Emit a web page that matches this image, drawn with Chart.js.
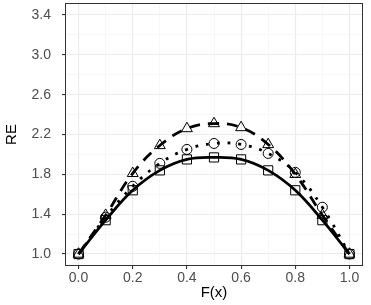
<!DOCTYPE html>
<html>
<head>
<meta charset="utf-8">
<script src="https://cdn.jsdelivr.net/npm/chart.js@4/dist/chart.umd.min.js"></script>
<style>
html,body{margin:0;padding:0;background:#fff;}
#wrap{width:371px;height:305px;}
</style>
</head>
<body>
<div id="wrap"><canvas id="c" width="371" height="305"></canvas></div>
<script>
// ---- data ----
const fx = [0.0, 0.1, 0.2, 0.3, 0.4, 0.5, 0.6, 0.7, 0.8, 0.9, 1.0];
const reSquare   = [1.00, 1.34, 1.64, 1.84, 1.95, 1.97, 1.95, 1.84, 1.64, 1.34, 1.00];
const reCircle   = [1.00, 1.37, 1.68, 1.91, 2.05, 2.11, 2.10, 2.01, 1.82, 1.47, 1.00];
const reTriangle = [1.00, 1.39, 1.81, 2.09, 2.26, 2.31, 2.27, 2.10, 1.80, 1.39, 1.00];
const xMajor = [0.0, 0.2, 0.4, 0.6, 0.8, 1.0];
const xMinor = [0.1, 0.3, 0.5, 0.7, 0.9];
const yMajor = [1.0, 1.4, 1.8, 2.2, 2.6, 3.0, 3.4];
const yMinor = [1.2, 1.6, 2.0, 2.4, 2.8, 3.2];

const near = (arr, v) => arr.some(m => Math.abs(m - v) < 1e-9);
const pts = ys => fx.map((x, i) => ({x: x, y: ys[i]}));

const FONT = "'Liberation Sans', Arial, Helvetica, sans-serif";

const borderPlugin = {
  id: 'panelBorder',
  afterDraw(chart) {
    const a = chart.chartArea, ctx = chart.ctx;
    ctx.save();
    ctx.strokeStyle = '#333333';
    ctx.lineWidth = 1;
    ctx.strokeRect(a.left + 0.5, a.top + 0.5, a.right - a.left - 1, a.bottom - a.top - 1);
    ctx.restore();
  }
};

function gridOpts(major) {
  return {
    color: c => (c.tick && near(major, c.tick.value)) ? '#EBEBEB' : '#F5F5F5',
    lineWidth: c => (c.tick && near(major, c.tick.value)) ? 1.1 : 0.8,
    tickColor: c => (c.tick && near(major, c.tick.value)) ? '#333333' : 'rgba(0,0,0,0)',
    tickLength: 3,
    drawTicks: true
  };
}

new Chart(document.getElementById('c'), {
  type: 'line',
  data: {
    datasets: [
      {
        data: pts(reSquare),
        borderColor: '#000', borderWidth: 2.8,
        tension: 0.4, fill: false,
        pointStyle: 'rect', pointRadius: 6.5,
        pointBorderColor: '#000', pointBackgroundColor: 'rgba(0,0,0,0)', pointBorderWidth: 1
      },
      {
        data: pts(reCircle),
        borderColor: '#000', borderWidth: 2.8, borderDash: [2.8, 8],
        tension: 0.4, fill: false,
        pointStyle: 'circle', pointRadius: 5,
        pointBorderColor: '#000', pointBackgroundColor: 'rgba(0,0,0,0)', pointBorderWidth: 1
      },
      {
        data: pts(reTriangle),
        borderColor: '#000', borderWidth: 2.8, borderDash: [11, 8],
        tension: 0.4, fill: false,
        pointStyle: 'triangle', pointRadius: 6.3,
        pointBorderColor: '#000', pointBackgroundColor: 'rgba(0,0,0,0)', pointBorderWidth: 1
      }
    ]
  },
  options: {
    responsive: false,
    animation: false,
    devicePixelRatio: 1,
    layout: {autoPadding: false, padding: {left: 0, top: 3, right: 8, bottom: 0}},
    plugins: {legend: {display: false}, tooltip: {enabled: false}},
    scales: {
      x: {
        type: 'linear', min: -0.05, max: 1.05,
        afterBuildTicks: s => { s.ticks = xMajor.concat(xMinor).sort((a,b)=>a-b).map(v => ({value: v})); },
        afterFit: s => { s.height = 39; s.paddingLeft = 0; s.paddingRight = 0; },
        grid: gridOpts(xMajor),
        border: {display: false},
        ticks: {
          autoSkip: false, maxRotation: 0, padding: 1,
          color: '#4D4D4D', font: {family: FONT, size: 14},
          callback: v => near(xMajor, v) ? v.toFixed(1) : ''
        },
        title: {display: true, text: 'F(x)', color: '#000', font: {family: FONT, size: 15}, padding: {top: 0, bottom: 3}}
      },
      y: {
        type: 'linear', min: 0.88, max: 3.52,
        afterBuildTicks: s => { s.ticks = yMajor.concat(yMinor).sort((a,b)=>a-b).map(v => ({value: v})); },
        afterFit: s => { s.width = 65; s.paddingTop = 0; s.paddingBottom = 0; },
        grid: gridOpts(yMajor),
        border: {display: false},
        ticks: {
          autoSkip: false, padding: 11,
          color: '#4D4D4D', font: {family: FONT, size: 14},
          callback: v => near(yMajor, v) ? v.toFixed(1) : ''
        },
        title: {display: true, text: 'RE', color: '#000', font: {family: FONT, size: 15}, padding: {top: 3, bottom: 0}}
      }
    }
  },
  plugins: [borderPlugin]
});
</script>
</body>
</html>
